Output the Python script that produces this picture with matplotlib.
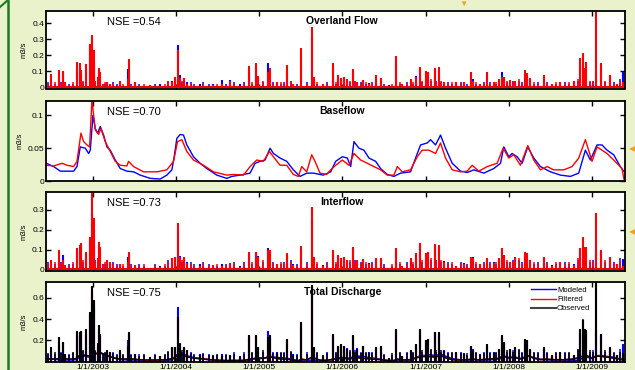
import numpy as np
import matplotlib
matplotlib.use("Agg")
import matplotlib.pyplot as plt
from matplotlib.lines import Line2D

plt.rcParams['font.family'] = ['Liberation Sans', 'DejaVu Sans']

# storm events (decimal years) shared by overland / interflow / total panels
event_year = [2002.504, 2002.592, 2002.644, 2002.672, 2002.812, 2002.844, 2002.864, 2002.920, 2002.972, 2002.992,
              2003.012, 2003.060, 2003.072, 2003.092, 2003.172, 2003.212, 2003.332, 2003.420, 2003.432, 2003.512,
              2003.692, 2003.812, 2003.952, 2003.992, 2004.024, 2004.052, 2004.092, 2004.132, 2004.292, 2004.452,
              2004.552, 2004.652, 2004.772, 2004.880, 2004.960, 2004.992, 2005.104, 2005.132, 2005.212, 2005.332,
              2005.412, 2005.500, 2005.632, 2005.660, 2005.772, 2005.892, 2005.952, 2005.980, 2006.020, 2006.060,
              2006.128, 2006.180, 2006.248, 2006.320, 2006.400, 2006.460, 2006.560, 2006.648, 2006.720, 2006.820,
              2006.880, 2006.932, 2007.000, 2007.032, 2007.112, 2007.160, 2007.220, 2007.360, 2007.460, 2007.540,
              2007.572, 2007.660, 2007.740, 2007.820, 2007.880, 2007.920, 2007.940, 2008.020, 2008.080, 2008.192,
              2008.220, 2008.260, 2008.420, 2008.520, 2008.620, 2008.780, 2008.860, 2008.892, 2008.920, 2008.932,
              2009.052, 2009.108, 2009.220, 2009.300, 2009.372]

overland_filtered = [.083, .108, .104, .030, .160, .150, .108, .143, .270, .325,
                     .230, .066, .118, .097, .035, .020, .040, .050, .174, .035,
                     .015, .010, .035, .062, .230, .060, .056, .020, .010, .015,
                     .020, .040, .010, .132, .153, .070, .097, .118, .030, .139,
                     .020, .242, .373, .066, .020, .150, .077, .056, .066, .050,
                     .112, .035, .045, .020, .077, .056, .010, .195, .020, .050,
                     .066, .128, .104, .097, .118, .128, .030, .035, .030, .097,
                     .040, .020, .097, .030, .050, .066, .066, .045, .040, .108,
                     .087, .056, .077, .020, .030, .040, .180, .211, .118, .160,
                     .480, .150, .077, .020, .030]
overland_modeled = [.040, .060, .090, .020, .120, .100, .080, .100, .260, .300,
                    .150, .050, .100, .080, .030, .020, .030, .112, .100, .030,
                    .010, .020, .040, .050, .260, .077, .060, .030, .020, .020,
                    .045, .045, .020, .100, .120, .060, .150, .090, .030, .100,
                    .020, .200, .300, .050, .020, .120, .060, .050, .060, .050,
                    .100, .030, .040, .025, .060, .050, .015, .150, .020, .040,
                    .070, .110, .090, .090, .100, .100, .030, .030, .030, .070,
                    .050, .020, .070, .030, .040, .097, .050, .040, .040, .090,
                    .080, .050, .060, .020, .030, .030, .120, .150, .100, .120,
                    .100, .120, .060, .020, .097]

interflow_filtered = [.050, .100, .050, .025, .108, .125, .137, .092, .167, .390,
                      .258, .060, .142, .117, .050, .042, .030, .040, .092, .025,
                      .010, .015, .058, .067, .233, .067, .067, .033, .020, .025,
                      .020, .033, .015, .088, .092, .067, .100, .100, .030, .083,
                      .025, .120, .313, .067, .020, .100, .075, .058, .067, .050,
                      .117, .050, .053, .030, .058, .058, .010, .108, .020, .058,
                      .083, .137, .083, .092, .130, .125, .040, .020, .030, .063,
                      .058, .030, .058, .035, .060, .108, .075, .042, .067, .092,
                      .083, .050, .067, .020, .042, .025, .108, .163, .117, .117,
                      .283, .100, .067, .030, .020]
interflow_modeled = [.030, .040, .075, .020, .090, .100, .120, .080, .150, .280,
                     .200, .050, .120, .100, .040, .030, .030, .067, .080, .020,
                     .010, .020, .060, .065, .200, .070, .060, .040, .030, .025,
                     .030, .030, .020, .080, .090, .070, .108, .090, .030, .070,
                     .030, .100, .250, .060, .025, .090, .070, .060, .060, .050,
                     .110, .050, .050, .035, .050, .050, .010, .090, .020, .050,
                     .080, .120, .080, .090, .120, .120, .045, .020, .035, .060,
                     .065, .030, .050, .040, .050, .090, .070, .040, .060, .080,
                     .080, .050, .060, .025, .040, .030, .090, .120, .100, .100,
                     .100, .090, .060, .030, .053]

total_observed = [.135, .230, .180, .070, .290, .280, .290, .310, .466, .710,
                  .576, .170, .340, .260, .104, .090, .104, .150, .283, .072,
                  .040, .050, .135, .140, .420, .167, .135, .104, .060, .050,
                  .050, .057, .040, .246, .246, .135, .230, .246, .080, .214,
                  .060, .372, .720, .135, .050, .260, .150, .167, .150, .120,
                  .246, .120, .150, .080, .135, .150, .030, .310, .050, .104,
                  .167, .310, .200, .214, .283, .277, .100, .088, .070, .150,
                  .100, .060, .167, .080, .120, .246, .183, .120, .135, .214,
                  .200, .120, .135, .050, .088, .060, .310, .394, .310, .300,
                  .750, .260, .135, .060, .080]
total_filtered = [.100, .220, .170, .060, .280, .270, .290, .290, .460, .700,
                  .550, .160, .330, .250, .100, .080, .100, .140, .270, .070,
                  .040, .050, .130, .140, .420, .160, .130, .100, .060, .050,
                  .050, .060, .040, .240, .250, .130, .220, .240, .080, .210,
                  .060, .360, .700, .130, .050, .250, .150, .160, .150, .120,
                  .240, .120, .150, .080, .130, .140, .030, .300, .050, .100,
                  .160, .300, .200, .210, .280, .270, .100, .080, .070, .140,
                  .100, .060, .160, .080, .120, .240, .180, .120, .130, .210,
                  .200, .120, .130, .050, .080, .060, .300, .400, .300, .290,
                  .750, .250, .130, .060, .080]
total_modeled = [.080, .150, .180, .060, .250, .250, .270, .260, .440, .650,
                 .500, .150, .300, .230, .090, .080, .090, .200, .250, .070,
                 .035, .050, .130, .140, .510, .170, .140, .110, .070, .060,
                 .070, .060, .050, .220, .240, .140, .290, .220, .090, .190,
                 .070, .330, .650, .130, .060, .240, .140, .160, .150, .130,
                 .230, .130, .150, .090, .130, .140, .030, .280, .050, .100,
                 .160, .280, .190, .210, .260, .250, .110, .080, .080, .150,
                 .120, .070, .150, .090, .120, .220, .170, .120, .130, .200,
                 .190, .120, .130, .060, .080, .050, .270, .330, .280, .270,
                 .300, .240, .130, .060, .167]

# smaller storms between the main ones
minor_year = [2002.46, 2002.55, 2002.62, 2002.72, 2002.76, 2002.89, 2003.03, 2003.12, 2003.15, 2003.25,
              2003.29, 2003.37, 2003.46, 2003.56, 2003.62, 2003.75, 2003.87, 2003.91, 2004.07, 2004.18,
              2004.22, 2004.33, 2004.40, 2004.50, 2004.60, 2004.70, 2004.82, 2004.92, 2005.05, 2005.17,
              2005.26, 2005.30, 2005.38, 2005.45, 2005.57, 2005.70, 2005.82, 2005.92, 2006.09, 2006.15,
              2006.22, 2006.28, 2006.36, 2006.50, 2006.60, 2006.69, 2006.78, 2006.85, 2006.96, 2007.07,
              2007.13, 2007.19, 2007.27, 2007.32, 2007.42, 2007.50, 2007.61, 2007.70, 2007.78, 2007.85,
              2007.98, 2008.05, 2008.12, 2008.16, 2008.30, 2008.35, 2008.46, 2008.57, 2008.67, 2008.72,
              2008.83, 2008.97, 2009.01, 2009.15, 2009.26, 2009.33]
overland_minor_fil = [.02, .03, .02, .01, .03, .04, .03, .02, .03, .02,
                      .01, .02, .01, .01, .02, .01, .02, .03, .04, .02,
                      .01, .02, .01, .02, .01, .02, .02, .03, .04, .02,
                      .03, .02, .03, .01, .02, .03, .02, .03, .04, .03,
                      .02, .03, .02, .01, .02, .03, .02, .03, .04, .05,
                      .03, .04, .02, .03, .02, .01, .03, .02, .02, .03,
                      .04, .03, .05, .02, .03, .02, .02, .03, .02, .03,
                      .05, .04, .03, .04, .02, .03]
overland_minor_mod = [.03, .02, .03, .02, .02, .03, .04, .02, .02, .03,
                      .02, .01, .02, .02, .01, .02, .01, .04, .03, .03,
                      .02, .03, .02, .01, .02, .03, .03, .02, .03, .03,
                      .02, .03, .04, .02, .03, .02, .03, .02, .03, .04,
                      .03, .02, .03, .02, .01, .02, .03, .02, .03, .04,
                      .04, .03, .03, .02, .03, .02, .02, .03, .03, .02,
                      .03, .04, .04, .03, .02, .03, .03, .02, .03, .02,
                      .04, .03, .04, .03, .03, .05]
inter_minor_fil = [.03, .04, .03, .02, .04, .05, .04, .03, .04, .03,
                   .02, .03, .02, .02, .03, .02, .03, .04, .05, .03,
                   .02, .03, .02, .03, .02, .03, .03, .04, .05, .03,
                   .04, .03, .04, .02, .03, .04, .03, .04, .05, .04,
                   .03, .04, .03, .02, .03, .04, .03, .04, .05, .06,
                   .04, .05, .03, .04, .03, .02, .04, .03, .03, .04,
                   .05, .04, .06, .03, .04, .03, .03, .04, .03, .04,
                   .06, .05, .04, .05, .03, .04]
inter_minor_mod = [.04, .03, .04, .03, .03, .04, .05, .03, .03, .04,
                   .03, .02, .03, .03, .02, .03, .02, .05, .04, .04,
                   .03, .04, .03, .02, .03, .04, .04, .03, .04, .04,
                   .03, .04, .05, .03, .04, .03, .04, .03, .04, .05,
                   .04, .03, .04, .03, .02, .03, .04, .03, .04, .05,
                   .05, .04, .04, .03, .04, .03, .03, .04, .04, .03,
                   .04, .05, .05, .04, .03, .04, .04, .03, .04, .03,
                   .05, .04, .05, .04, .04, .06]
total_minor_obs = [.07, .09, .08, .06, .09, .11, .10, .08, .09, .08,
                   .06, .07, .06, .05, .07, .06, .07, .09, .11, .08,
                   .06, .07, .06, .07, .06, .07, .07, .09, .11, .08,
                   .09, .08, .09, .06, .07, .09, .08, .09, .11, .09,
                   .08, .09, .08, .06, .08, .09, .08, .09, .11, .12,
                   .09, .11, .08, .09, .08, .06, .09, .08, .08, .09,
                   .11, .09, .12, .08, .09, .08, .08, .09, .08, .09,
                   .12, .11, .09, .11, .08, .09]
total_minor_mod = [.08, .07, .09, .07, .08, .10, .11, .07, .08, .09,
                   .07, .06, .07, .07, .06, .07, .06, .10, .09, .09,
                   .07, .08, .07, .06, .07, .09, .09, .08, .09, .09,
                   .08, .09, .10, .07, .09, .08, .09, .08, .09, .11,
                   .09, .08, .09, .07, .06, .08, .09, .08, .09, .11,
                   .11, .09, .09, .08, .09, .08, .08, .09, .09, .08,
                   .09, .11, .11, .09, .08, .09, .09, .08, .09, .08,
                   .11, .09, .11, .09, .09, .12]

# baseflow curves
base_mod_year = [2002.444, 2002.532, 2002.612, 2002.692, 2002.772, 2002.812, 2002.852, 2002.912, 2002.952, 2002.972,
                 2003.004, 2003.032, 2003.060, 2003.092, 2003.132, 2003.172, 2003.212, 2003.272, 2003.332, 2003.412,
                 2003.492, 2003.572, 2003.692, 2003.812, 2003.892, 2003.952, 2003.980, 2004.012, 2004.052, 2004.092,
                 2004.132, 2004.212, 2004.292, 2004.372, 2004.492, 2004.612, 2004.672, 2004.772, 2004.892, 2004.952,
                 2005.012, 2005.072, 2005.132, 2005.172, 2005.252, 2005.332, 2005.412, 2005.492, 2005.572, 2005.652,
                 2005.772, 2005.860, 2005.920, 2006.000, 2006.060, 2006.100, 2006.140, 2006.200, 2006.260, 2006.320,
                 2006.400, 2006.460, 2006.540, 2006.620, 2006.700, 2006.820, 2006.880, 2006.940, 2007.020, 2007.060,
                 2007.120, 2007.180, 2007.240, 2007.320, 2007.420, 2007.500, 2007.580, 2007.700, 2007.820, 2007.900,
                 2007.940, 2008.000, 2008.040, 2008.100, 2008.160, 2008.228, 2008.300, 2008.380, 2008.500, 2008.620,
                 2008.740, 2008.840, 2008.920, 2008.980, 2009.060, 2009.120, 2009.180, 2009.260, 2009.340, 2009.380]
base_mod = [.027, .022, .015, .015, .015, .022, .052, .050, .042, .047,
            .100, .080, .073, .083, .070, .052, .047, .032, .019, .015,
            .014, .009, .004, .003, .009, .017, .037, .065, .071, .070,
            .055, .037, .027, .019, .009, .004, .007, .009, .012, .027,
            .030, .032, .050, .042, .035, .030, .017, .007, .012, .012,
            .009, .014, .030, .037, .035, .022, .060, .050, .047, .035,
            .030, .019, .010, .007, .012, .014, .035, .055, .058, .063,
            .055, .070, .050, .027, .015, .013, .017, .012, .019, .027,
            .052, .037, .042, .037, .027, .052, .035, .022, .014, .009,
            .007, .012, .047, .032, .055, .055, .047, .040, .022, .015]
base_fil_year = [2002.444, 2002.532, 2002.632, 2002.692, 2002.772, 2002.812, 2002.860, 2002.892, 2002.932, 2002.964,
                 2002.992, 2003.032, 2003.072, 2003.100, 2003.152, 2003.212, 2003.272, 2003.332, 2003.412, 2003.432,
                 2003.492, 2003.612, 2003.772, 2003.892, 2003.972, 2004.020, 2004.072, 2004.132, 2004.212, 2004.332,
                 2004.452, 2004.612, 2004.692, 2004.812, 2004.892, 2004.972, 2005.052, 2005.124, 2005.172, 2005.252,
                 2005.332, 2005.412, 2005.472, 2005.512, 2005.572, 2005.632, 2005.672, 2005.732, 2005.812, 2005.860,
                 2005.920, 2006.000, 2006.080, 2006.140, 2006.220, 2006.300, 2006.380, 2006.460, 2006.540, 2006.620,
                 2006.660, 2006.720, 2006.820, 2006.900, 2006.960, 2007.040, 2007.120, 2007.180, 2007.240, 2007.320,
                 2007.420, 2007.500, 2007.560, 2007.640, 2007.740, 2007.860, 2007.932, 2008.000, 2008.060, 2008.140,
                 2008.228, 2008.300, 2008.380, 2008.460, 2008.540, 2008.660, 2008.760, 2008.840, 2008.920, 2009.000,
                 2009.060, 2009.120, 2009.180, 2009.260, 2009.360, 2009.388]
base_fil = [.024, .023, .027, .024, .022, .030, .073, .060, .055, .052,
            .124, .078, .071, .080, .060, .045, .030, .024, .023, .030,
            .022, .014, .014, .017, .030, .060, .063, .045, .032, .024,
            .014, .009, .010, .009, .022, .032, .030, .045, .037, .024,
            .024, .010, .007, .022, .014, .040, .030, .012, .010, .017,
            .024, .032, .024, .042, .032, .027, .022, .017, .009, .009,
            .022, .014, .017, .037, .047, .047, .042, .058, .035, .017,
            .014, .015, .024, .015, .022, .027, .050, .035, .040, .024,
            .054, .032, .017, .022, .017, .017, .022, .035, .063, .030,
            .052, .047, .042, .032, .019, .000]

nse = ['NSE =0.54', 'NSE =0.70', 'NSE =0.73', 'NSE =0.75']
titles = ['Overland Flow', 'Baseflow', 'Interflow', 'Total Discharge']
year_ticks = [2003, 2004, 2005, 2006, 2007, 2008, 2009]
year_labels = ['1/1/2003', '1/1/2004', '1/1/2005', '1/1/2006', '1/1/2007', '1/1/2008', '1/1/2009']

BLUE = '#0000FF'
RED = '#FF0000'
BG = '#E9F2CB'

fig = plt.figure(figsize=(6.35, 3.70), dpi=100, facecolor=BG)

W, H = 635.0, 370.0
boxes = [(11, 88.5), (101, 181), (192, 271), (282, 361.5)]
axes = []
for top, bot in boxes:
    ax = fig.add_axes([46 / W, 1 - bot / H, 578.5 / W, (bot - top) / H])
    axes.append(ax)

ev = np.array(event_year)
mv = np.array(minor_year)
lw_spike = 1.5
lw_minor = 1.1

# overland
ax = axes[0]
ax.axhline(0.001, color=BLUE, lw=1.2)
ax.axhline(0.004, color=RED, lw=1.5)
ax.vlines(mv, 0, overland_minor_mod, color=BLUE, lw=lw_minor)
ax.vlines(ev, 0, overland_modeled, color=BLUE, lw=lw_spike)
ax.vlines(mv, 0, overland_minor_fil, color=RED, lw=lw_minor)
ax.vlines(ev, 0, overland_filtered, color=RED, lw=lw_spike)
ax.set_ylim(-0.008, 0.475)
ax.set_yticks([0, 0.1, 0.2, 0.3, 0.4])
ax.set_yticklabels(['0', '0.1', '0.2', '0.3', '0.4'])

# baseflow
ax = axes[1]
ax.plot(base_mod_year, base_mod, color=BLUE, lw=1.0)
ax.plot(base_fil_year, base_fil, color=RED, lw=1.0)
ax.set_ylim(0, 0.122)
ax.set_yticks([0, 0.05, 0.1])
ax.set_yticklabels(['0', '0.05', '0.1'])

# interflow
ax = axes[2]
ax.axhline(0.004, color=BLUE, lw=1.2)
ax.axhline(0.007, color=RED, lw=1.5)
ax.vlines(mv, 0, inter_minor_mod, color=BLUE, lw=lw_minor)
ax.vlines(ev, 0, interflow_modeled, color=BLUE, lw=lw_spike)
ax.vlines(mv, 0, inter_minor_fil, color=RED, lw=lw_minor)
ax.vlines(ev, 0, interflow_filtered, color=RED, lw=lw_spike)
ax.set_ylim(-0.005, 0.39)
ax.set_yticks([0, 0.1, 0.2, 0.3])
ax.set_yticklabels(['0', '0.1', '0.2', '0.3'])

# total discharge
ax = axes[3]
ax.plot(base_mod_year, base_mod, color=BLUE, lw=1.2)
ax.plot(base_fil_year, base_fil, color=RED, lw=1.2)
ax.plot(base_fil_year, base_fil, color='black', lw=1.0)
ax.vlines(mv, 0, total_minor_mod, color=BLUE, lw=lw_minor)
ax.vlines(ev, 0, total_modeled, color=BLUE, lw=lw_spike)
ax.vlines(ev, 0, total_filtered, color=RED, lw=lw_spike)
ax.vlines(mv, 0, total_minor_obs, color='black', lw=lw_minor)
ax.vlines(ev, 0, total_observed, color='black', lw=lw_spike)
ax.set_ylim(0, 0.75)
ax.set_yticks([0.2, 0.4, 0.6])
ax.set_yticklabels(['0.2', '0.4', '0.6'])
handles = [Line2D([], [], color=BLUE, lw=1), Line2D([], [], color=RED, lw=1), Line2D([], [], color='#444444', lw=1.5)]
ax.legend(handles, ['Modeled', 'Filtered', 'Observed'], loc='upper left', bbox_to_anchor=(0.832, 0.99),
          frameon=False, fontsize=5.5, handlelength=3.2, handletextpad=0.2, labelspacing=0.25, borderpad=0)

for i, ax in enumerate(axes):
    ax.set_facecolor('white')
    ax.set_xlim(2002.44, 2009.39)
    ax.set_xticks(year_ticks)
    if i == 3:
        ax.set_xticklabels(year_labels)
    else:
        ax.set_xticklabels([])
    ax.tick_params(direction='in', top=True, right=True, labelsize=6, length=3.5, width=1, pad=1.5)
    ax.tick_params(axis='y', labelright=False)
    for s in ax.spines.values():
        s.set_linewidth(1.3)
    ax.set_ylabel('m3/s', fontsize=5.5, labelpad=3)
    ax.text(0.105, 0.86, nse[i], transform=ax.transAxes, fontsize=8, ha='left', va='center')
    ax.text(0.512, 0.87, titles[i], transform=ax.transAxes, fontsize=7.5, fontweight='bold',
            ha='center', va='center')

# page decorations
fig.add_artist(Line2D([8 / W, 8 / W], [0, 1 - 1 / H], color='#1E7B1E', lw=1.8, transform=fig.transFigure))
fig.add_artist(Line2D([0, 8 / W], [1 - 7 / H, 1 - 0 / H], color='#1E7B1E', lw=1.5, transform=fig.transFigure))
fig.text(463 / W, 1 - 4 / H, '\u25bc', color='#F5A01A', fontsize=6, ha='center', va='center')
fig.text(632 / W, 1 - 150 / H, '\u25c0', color='#F5A01A', fontsize=6, ha='center', va='center')
fig.text(632 / W, 1 - 233 / H, '\u25c0', color='#F5A01A', fontsize=6, ha='center', va='center')

fig.savefig('out.png', dpi=100, facecolor=BG)
